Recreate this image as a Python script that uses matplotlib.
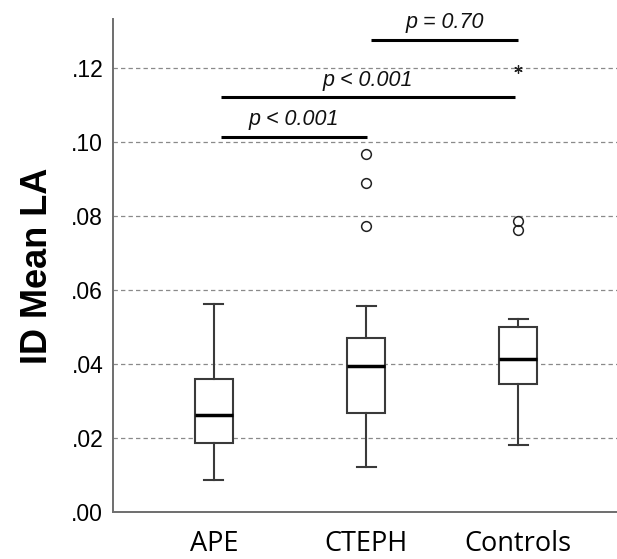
import matplotlib.pyplot as plt
import matplotlib.ticker as mticker

groups = ['APE', 'CTEPH', 'Controls']
whislo = [0.0086, 0.0122, 0.0180]
q1 = [0.0187, 0.0268, 0.0347]
med = [0.0262, 0.0395, 0.0414]
q3 = [0.0359, 0.0470, 0.0501]
whishi = [0.0563, 0.0558, 0.0522]
outliers = [[], [0.0968, 0.0890, 0.0774], [0.0786, 0.0762]]
extremes = [[], [], [0.1196]]

# significance bars: (start, end, height, label)
sig_start = [1.047, 1.047, 2.033]
sig_end = [2.007, 2.98, 3.0]
sig_y = [0.1014, 0.1121, 0.1276]
sig_text = ['p < 0.001', 'p < 0.001', 'p = 0.70']

fig = plt.figure(figsize=(6.17, 5.59), dpi=100)
ax = fig.add_axes([0.183, 0.084, 0.817, 0.882])

stats = []
for i in range(len(groups)):
    stats.append({'whislo': whislo[i], 'q1': q1[i], 'med': med[i],
                  'q3': q3[i], 'whishi': whishi[i], 'fliers': outliers[i],
                  'label': groups[i]})

gray = '#3a3a3a'
ax.bxp(stats, positions=[1, 2, 3], widths=0.25, patch_artist=True,
       boxprops=dict(facecolor='white', edgecolor=gray, linewidth=1.5),
       whiskerprops=dict(color=gray, linewidth=1.5),
       capprops=dict(color=gray, linewidth=1.5),
       medianprops=dict(color='black', linewidth=2.5),
       flierprops=dict(marker='o', markerfacecolor='none', markeredgecolor='#222222',
                       markersize=7, markeredgewidth=1.1),
       capwidths=0.125, zorder=3)

for i in range(len(groups)):
    for v in extremes[i]:
        ax.plot(i + 1, v, marker=(6, 2, 0), color='#222222', markersize=6,
                markeredgewidth=0.9, zorder=4)

for i in range(len(sig_y)):
    ax.plot([sig_start[i], sig_end[i]], [sig_y[i], sig_y[i]], color='black',
            linewidth=2.2, solid_capstyle='butt', clip_on=False, zorder=4)
    ax.text((sig_start[i] + sig_end[i]) / 2, sig_y[i] + 0.0017, sig_text[i],
            ha='center', va='bottom', fontsize=15.5, style='italic',
            family='Liberation Sans', color='#111111')

ax.set_xlim(0.336, 3.65)
ax.set_ylim(0, 0.1332)
ax.set_yticks([0, 0.02, 0.04, 0.06, 0.08, 0.10, 0.12])
ax.yaxis.set_major_formatter(mticker.FuncFormatter(lambda v, p: ('%.2f' % v)[1:]))
for y in [0.02, 0.04, 0.06, 0.08, 0.10, 0.12]:
    ax.axhline(y, color='#8a8a8a', linewidth=0.9, linestyle=(0, (3.5, 2.5)), zorder=1)

ax.tick_params(axis='y', length=0, pad=7, labelsize=16.5)
ax.tick_params(axis='x', length=0, pad=13, labelsize=19.5)
for lab in ax.get_yticklabels():
    lab.set_family('Liberation Sans')
for lab in ax.get_xticklabels():
    lab.set_family('Open Sans')

for s in ['top', 'right']:
    ax.spines[s].set_visible(False)
for s in ['left', 'bottom']:
    ax.spines[s].set_color('#6e6e6e')
    ax.spines[s].set_linewidth(1.4)

ax.set_ylabel('ID Mean LA', fontsize=26, fontweight='bold', family='Liberation Sans',
              labelpad=12)

fig.savefig('out.png', dpi=100)
